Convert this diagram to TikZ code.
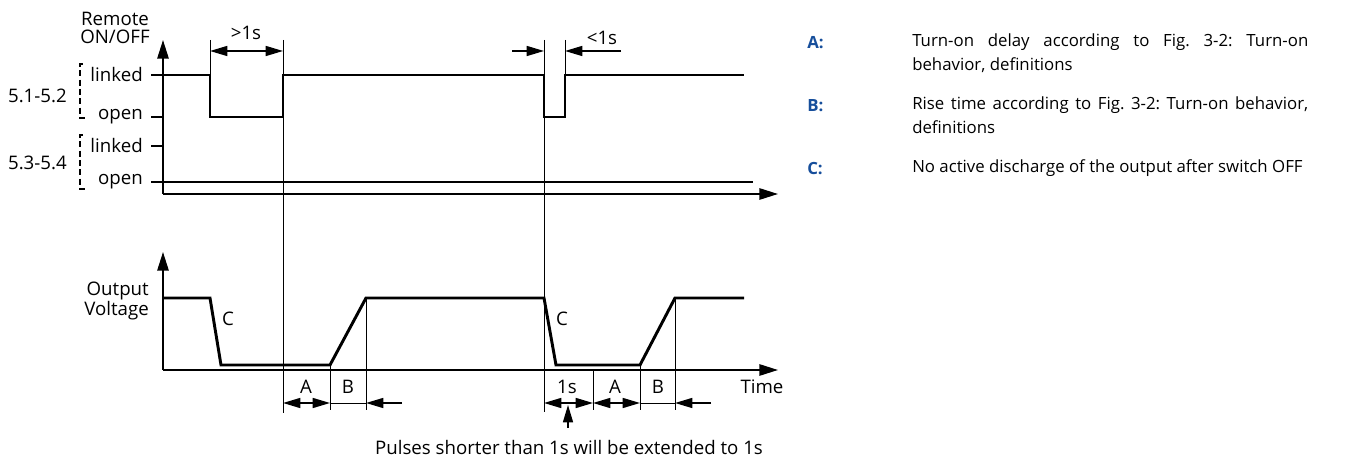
\documentclass[tikz,border=0pt]{standalone}
\usepackage{fontspec}
\setmainfont{Open Sans}
\usetikzlibrary{arrows.meta}
\frenchspacing
\definecolor{legblue}{RGB}{22,78,155}
\tikzset{
  sig/.style={line width=2.2pt, line join=miter},
  thin/.style={line width=0.7pt},
  axis/.style={line width=1.4pt, -{Triangle[length=14pt,width=8.5pt]}},
  tick/.style={line width=1.1pt},
  dimr/.style={line width=1.1pt, -{Triangle[length=13pt,width=7.5pt]}},
  dimb/.style={line width=1.1pt, {Triangle[length=13pt,width=7.5pt]}-{Triangle[length=13pt,width=7.5pt]}},
  lbl/.style={font=\fontsize{14pt}{14pt}\selectfont, inner sep=0pt},
  leg/.style={font=\fontsize{12.6pt}{18pt}\selectfont, inner sep=0pt, text width=297pt, align=justify, anchor=north west},
  legk/.style={font=\fontsize{12.6pt}{18pt}\selectfont\bfseries, text=legblue, inner sep=0pt, anchor=west},
  brk/.style={line width=1.4pt, dash pattern=on 4.5pt off 2.5pt}
}
\begin{document}
\begin{tikzpicture}[x=0.75pt,y=-0.75pt]
\useasboundingbox (0,0) rectangle (1368,459);
% ---------- top chart ----------
\coordinate (ta0) at (163,194);
\coordinate (tatop) at (163,40);
\coordinate (taend) at (778,194);
\draw[axis] (ta0) -- (tatop);
\draw[axis] (ta0) -- (taend);
% ticks
\draw[tick] (151,75) -- (163,75);
\draw[tick] (151,117) -- (163,117);
\draw[tick] (151,146) -- (163,146);
% labels
\node[lbl, align=center, font=\fontsize{14pt}{13.5pt}\selectfont] (remote) at (115,28) {Remote\\ON/OFF};
\node[lbl, anchor=east] (l1) at (143,75) {linked};
\node[lbl, anchor=east] (o1) at (143,117) {open};
\node[lbl, anchor=east] (l2) at (143,146) {linked};
\node[lbl, anchor=east] (o2) at (143,182) {open};
\node[lbl, anchor=east] (g1) at (67,96) {5.1-5.2};
\node[lbl, anchor=east] (g2) at (67,163) {5.3-5.4};
% dashed brackets
\draw[brk] (83,64) -- (80,64) -- (80,118) -- (85,118);
\draw[brk] (83,135) -- (80,135) -- (80,189) -- (85,189);
% signal 5.1-5.2
\draw[sig] (163,75) -- (210,75) -- (210,117) -- (283,117) -- (283,75) -- (544,75) -- (544,117) -- (565,117) -- (565,75) -- (744,75);
% signal 5.3-5.4
\draw[sig] (151,182) -- (753,182);
% dimension >1s
\draw[thin] (210,40) -- (210,75);
\draw[thin] (283,40) -- (283,413);
\draw[dimb] (210,51) -- (283,51);
\node[lbl] (gt1) at (246,33) {>1s};
% dimension <1s
\draw[thin] (544,40) -- (544,412);
\draw[thin] (565,40) -- (565,75);
\draw[dimr] (512,51) -- (544,51);
\draw[dimr] (621,51) -- (565,51);
\node[lbl] (lt1) at (602,38) {<1s};
% ---------- bottom chart ----------
\coordinate (ba0) at (163,370);
\draw[axis] (ba0) -- (163,252);
\draw[axis] (ba0) -- (778,370);
\node[lbl, align=right, anchor=east, font=\fontsize{14pt}{15pt}\selectfont] (ov) at (149,301) {Output\\Voltage};
\draw[sig] (163,298) -- (210,298) -- (221,365) -- (330,365) -- (366,298) -- (544,298) -- (556,365) -- (640,365) -- (675,298) -- (744,298);
\node[lbl] (c1) at (228,319) {C};
\node[lbl] (c2) at (562,319) {C};
% vertical guide lines
\draw[thin] (330,365) -- (330,410);
\draw[thin] (366,298) -- (366,410);
\draw[thin] (593,370) -- (593,410);
\draw[thin] (640,365) -- (640,410);
\draw[thin] (675,298) -- (675,410);
% dimensions
\draw[dimb] (283,403) -- (330,403);
\draw[thin] (330,403) -- (366,403);
\draw[dimr] (402,403) -- (366,403);
\draw[dimb] (544,403) -- (593,403);
\draw[dimb] (593,403) -- (640,403);
\draw[thin] (640,403) -- (675,403);
\draw[dimr] (711,403) -- (675,403);
\node[lbl] (dA1) at (306,387) {A};
\node[lbl] (dB1) at (348,387) {B};
\node[lbl] (d1s) at (567,387) {1s};
\node[lbl] (dA2) at (615,387) {A};
\node[lbl] (dB2) at (658,387) {B};
\node[lbl] (time) at (762,387) {Time};
\node[lbl] (pulses) at (569,448) {Pulses shorter than 1s will be extended to 1s};
\draw[dimr] (568,428) -- (568,405);
% ---------- legend ----------
\node[legk] (ka) at (807,43) {A:};
\node[legk] (kb) at (807,106) {B:};
\node[legk] (kc) at (807,169) {C:};
\node[leg] (ta) at (912,33) {Turn-on delay according to Fig. 3-2: Turn-on\linebreak behavior, definitions};
\node[leg] (tb) at (912,96) {Rise time according to Fig. 3-2: Turn-on behavior,\linebreak definitions};
\node[leg] (tc) at (912,159) {No active discharge of the output after switch OFF};
\end{tikzpicture}
\end{document}
